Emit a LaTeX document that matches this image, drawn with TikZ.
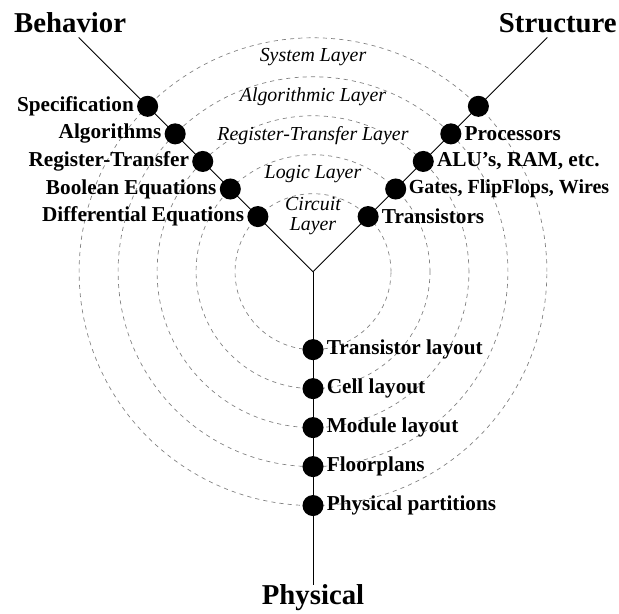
\documentclass[tikz,border=0pt]{standalone}
\usepackage{fontspec}
\setmainfont{Liberation Serif}
\usepackage{tikz}
\usetikzlibrary{positioning}

\tikzset{
    ring/.style = {dashed, color = gray, line width = 0.5pt},
    axis/.style = {black, line width = 0.6pt},
    dot/.style = {circle, fill = black, inner sep = 0pt, minimum size = 0.54cm},
    level/.style = {font = \fontsize{15.5}{16}\selectfont\bfseries, inner sep = 1pt},
    layer/.style = {font = \fontsize{14.5}{14.6}\selectfont\itshape, align = center},
    view/.style = {font = \fontsize{21}{22}\selectfont\bfseries}
}

\begin{document}
\begin{tikzpicture}
    \useasboundingbox (-8.03, -8.77) rectangle (7.85, 6.97);

    \coordinate (o) at (0, 0);
    \coordinate (bend) at (135:8.5);
    \coordinate (send) at (45:8.5);
    \coordinate (pend) at (0, -8.03);

    % layers
    \draw[ring] (o) circle (2);
    \draw[ring] (o) circle (3);
    \draw[ring] (o) circle (4);
    \draw[ring] (o) circle (5);
    \draw[ring] (o) circle (6);

    \node[layer] (circuit) at (0, 1.42) {Circuit\\Layer};
    \node[layer] (logic) at (0, 2.5) {Logic Layer};
    \node[layer] (rtl) at (0, 3.5) {Register-Transfer Layer};
    \node[layer] (algo) at (0, 4.5) {Algorithmic Layer};
    \node[layer] (system) at (0, 5.5) {System Layer};

    % the three axes
    \draw[axis] (bend) -- (o) -- (send);
    \draw[axis] (o) -- (pend);

    \node[view] (behavior) at (-6.23, 6.38) {Behavior};
    \node[view] (structure) at (6.28, 6.38) {Structure};
    \node[view] (physical) at (0, -8.36) {Physical};

    % behavior
    \node[dot] (b1) at (135:2) {};
    \node[dot] (b2) at (135:3) {};
    \node[dot] (b3) at (135:4) {};
    \node[dot] (b4) at (135:5) {};
    \node[dot] (b5) at (135:6) {};
    \node[level, left = 1pt of b1] {Differential Equations};
    \node[level, left = 1pt of b2] {Boolean Equations};
    \node[level, left = 1pt of b3] {Register-Transfer};
    \node[level, left = 1pt of b4] {Algorithms};
    \node[level, left = 1pt of b5] {Specification};

    % structure
    \node[dot] (s1) at (45:2) {};
    \node[dot] (s2) at (45:3) {};
    \node[dot] (s3) at (45:4) {};
    \node[dot] (s4) at (45:5) {};
    \node[dot] (s5) at (45:6) {};
    \node[level, right = 1pt of s1] {Transistors};
    \node[level, right = 0.5pt of s2, font = \fontsize{14.6}{16}\selectfont\bfseries] {Gates, FlipFlops, Wires};
    \node[level, right = 1pt of s3] {ALU's, RAM, etc.};
    \node[level, right = 1pt of s4] {Processors};

    % physical
    \node[dot] (p1) at (0, -2) {};
    \node[dot] (p2) at (0, -3) {};
    \node[dot] (p3) at (0, -4) {};
    \node[dot] (p4) at (0, -5) {};
    \node[dot] (p5) at (0, -6) {};
    \node[level, right = 1pt of p1] {Transistor layout};
    \node[level, right = 1pt of p2] {Cell layout};
    \node[level, right = 1pt of p3] {Module layout};
    \node[level, right = 1pt of p4] {Floorplans};
    \node[level, right = 1pt of p5] {Physical partitions};
\end{tikzpicture}
\end{document}
